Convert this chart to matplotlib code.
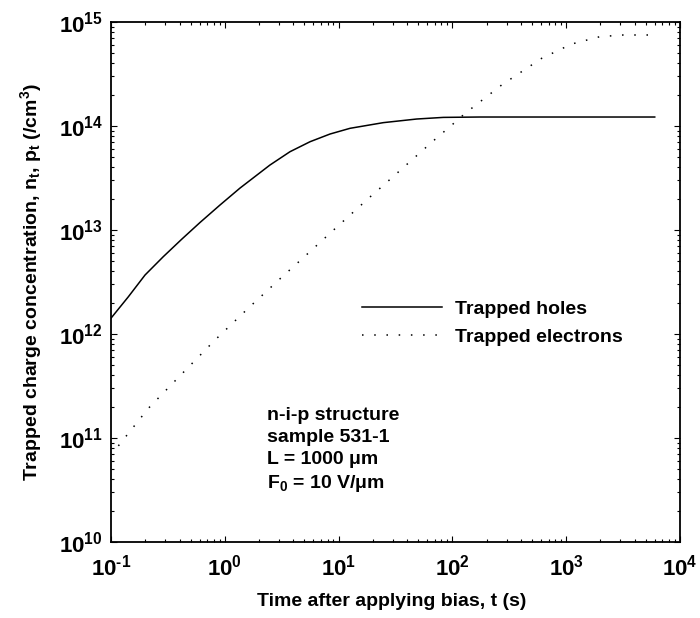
import matplotlib
matplotlib.use("Agg")
import matplotlib.pyplot as plt

plt.rcParams['font.family'] = ['Liberation Sans', 'DejaVu Sans']
plt.rcParams['font.weight'] = 'bold'
plt.rcParams['axes.labelweight'] = 'bold'
plt.rcParams['axes.unicode_minus'] = False
plt.rcParams['mathtext.fontset'] = 'custom'
plt.rcParams['mathtext.rm'] = 'Liberation Sans:bold'
plt.rcParams['mathtext.it'] = 'Liberation Sans:bold'
plt.rcParams['mathtext.bf'] = 'Liberation Sans:bold'

# trapped holes (solid)
holes_t = [0.1, 0.142, 0.199, 0.288, 0.418, 0.605, 0.908, 1.36, 2.49, 3.74,
           5.61, 8.40, 12.6, 24.7, 48.5, 83.2, 175, 6000]
holes_n = [1.42e12, 2.28e12, 3.69e12, 5.54e12, 8.15e12, 1.18e13, 1.74e13, 2.53e13,
           4.21e13, 5.66e13, 7.06e13, 8.37e13, 9.5e13, 1.077e14, 1.167e14,
           1.21e14, 1.22e14, 1.22e14]

# trapped electrons (dotted)
elec_t = [0.116, 0.213, 0.418, 0.82, 1.66, 2.36, 2.86, 4.9, 9.94, 20.2, 23.9, 68,
          109, 129, 187, 271, 610, 1117, 1982, 3177, 6000]
elec_n = [8.4e10, 1.93e11, 4.12e11, 8.75e11, 1.83e12, 2.61e12, 3.18e12, 5.42e12,
          1.10e13, 2.22e13, 2.6e13, 7.2e13, 1.12e14, 1.32e14, 1.81e14, 2.48e14,
          4.48e14, 6.14e14, 7.23e14, 7.5e14, 7.5e14]

x_ticks = [0.1, 1, 10, 100, 1000, 10000]
x_labels = ['10$^{\\text{-}1}$', '10$^{0}$', '10$^{1}$', '10$^{2}$', '10$^{3}$', '10$^{4}$']
y_ticks = [1e10, 1e11, 1e12, 1e13, 1e14, 1e15]
y_labels = ['10$^{10}$', '10$^{11}$', '10$^{12}$', '10$^{13}$', '10$^{14}$', '10$^{15}$']

info_lines = ['n-i-p structure', 'sample 531-1', 'L = 1000 \u03bcm', 'F$_0$ = 10 V/\u03bcm']

fig = plt.figure(figsize=(7, 6.18), dpi=100)
ax = fig.add_axes([0.1586, 0.1230, 0.8128, 0.8414])

ax.plot(holes_t, holes_n, color='black', lw=1.1, label='Trapped holes')
ax.plot(elec_t, elec_n, color='black', lw=1.1, linestyle=(0, (1, 7.0)),
        label='Trapped electrons')

ax.set_xscale('log')
ax.set_yscale('log')
ax.set_xticks(x_ticks, labels=x_labels)
ax.set_yticks(y_ticks, labels=y_labels)
ax.set_xlim(0.1, 1e4)
ax.set_ylim(1e10, 1e15)

ax.tick_params(which='both', direction='in', top=True, right=True, width=0.8)
ax.tick_params(which='major', length=4, labelsize=16)
ax.tick_params(which='minor', length=2.2)
ax.tick_params(axis='x', which='major', pad=9)
ax.tick_params(axis='y', which='major', pad=6)
for s in ax.spines.values():
    s.set_linewidth(1.3)

ax.set_xlabel('Time after applying bias, t (s)', fontsize=14)
ax.set_ylabel('Trapped charge concentration, n$_t$, p$_t$ (/cm$^3$)', fontsize=14)
ax.xaxis.set_label_coords(0.494, -0.098)
ax.yaxis.set_label_coords(-0.118, 0.5)

leg = ax.legend(loc='center left', bbox_to_anchor=(0.441, 0.421), frameon=False,
                fontsize=14, handlelength=4.1, handletextpad=0.67,
                labelspacing=0.54, borderpad=0, borderaxespad=0)

ys = [0.244, 0.200, 0.158, 0.113]
for txt, y in zip(info_lines, ys):
    ax.text(0.274, y, txt, transform=ax.transAxes, fontsize=14,
            va='center', ha='left')

fig.savefig('out.png', dpi=100)
